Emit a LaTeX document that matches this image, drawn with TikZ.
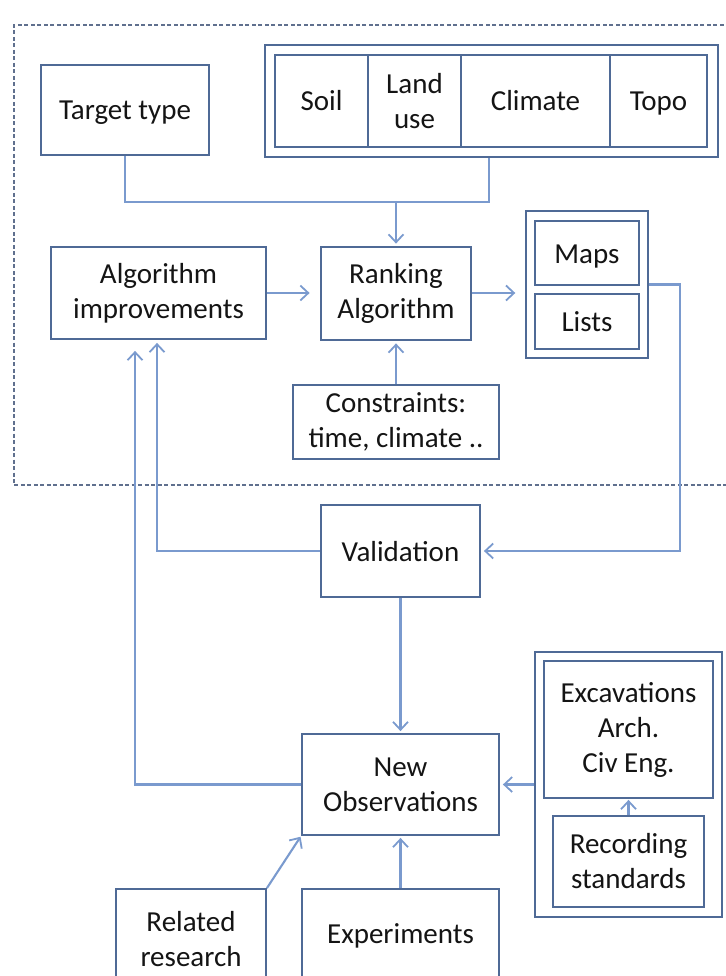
\documentclass[tikz,border=0pt]{standalone}
\usepackage{fontspec}
\setmainfont{Carlito}
\usetikzlibrary{arrows.meta}
\definecolor{boxc}{RGB}{79,106,150}
\definecolor{linkc}{RGB}{122,154,206}
\definecolor{dashc}{RGB}{96,112,142}
\definecolor{txtc}{RGB}{20,20,20}
\tikzset{
  box/.style={draw=boxc, line width=1.8pt, rectangle, inner sep=2pt, align=center,
    text=txtc, font=\fontsize{29}{35}\selectfont},
  oneline/.style={text height=23pt, text depth=3pt},
  link/.style={draw=linkc, line width=2.1pt},
  arr/.style={link, -{Straight Barb[length=8pt,width=15pt,line width=1.8pt]}},
}
\begin{document}
\begin{tikzpicture}[x=1pt,y=-1pt]
\useasboundingbox (0,0) rectangle (725,976);
% dashed frame around the ranking stage
\draw[dashc, line width=1.5pt, dash pattern=on 4pt off 2.5pt]
  (730,25) -- (14,25) -- (14,485) -- (730,485);

% inputs
\node[box, oneline, minimum width=168, minimum height=90] (target) at (125,110) {Target type};
\node[box, line width=1.4pt, minimum width=453, minimum height=112] (env) at (491.5,101) {};
\node[box, oneline, minimum width=93, minimum height=92] (soil) at (321.5,101) {Soil};
\node[box, minimum width=93, minimum height=92] (land) at (414.5,101) {Land\\use};
\node[box, oneline, minimum width=149, minimum height=92] (climate) at (535.5,101) {Climate};
\node[box, oneline, minimum width=97, minimum height=92] (topo) at (658.5,101) {Topo};

% algorithm row
\node[box, minimum width=215, minimum height=92] (algimp) at (158.5,293) {Algorithm\\improvements};
\node[box, line width=2.8pt, minimum width=150, minimum height=93] (ranking) at (396,293.5) {Ranking\\Algorithm};
\node[box, line width=1.4pt, minimum width=122, minimum height=147] (outputs) at (587,284.5) {};
\node[box, oneline, minimum width=104, minimum height=64] (maps) at (587,253) {Maps};
\node[box, oneline, minimum width=104, minimum height=55] (lists) at (587,321.5) {Lists};
\node[box, minimum width=206, minimum height=74] (constraints) at (396,422) {Constraints:\\time, climate ..};

% validation and observations
\node[box, oneline, minimum width=159, minimum height=92] (validation) at (400.5,551) {Validation};
\node[box, minimum width=197, minimum height=101] (newobs) at (400.5,784.5) {New\\Observations};
\node[box, line width=1.4pt, minimum width=187, minimum height=265] (obsenv) at (628.5,784.5) {};
\node[box, minimum width=169, minimum height=137] (excav) at (628.5,729.5) {Excavations\\Arch.\\Civ Eng.};
\node[box, minimum width=151, minimum height=91] (recording) at (628.5,861.5) {Recording\\standards};
\node[box, minimum width=150, minimum height=101] (related) at (191,939.5) {Related\\research};
\node[box, text height=20pt, text depth=13pt, minimum width=197, minimum height=101] (experiments) at (400.5,939.5) {Experiments};

% connectors
\coordinate (jn) at (396,201);
\draw[link] (target.south) -- ++(0,46) -| ([xshift=-2.5pt]env.south);
\draw[arr, shorten >=2pt] (jn) -- (ranking.north);
\draw[arr, shorten >=10pt] (algimp.east) -- (algimp.east -| ranking.west);
\draw[arr, shorten >=10pt] (algimp.east -| ranking.east) -- (algimp.east -| outputs.west);
\draw[arr, shorten >=2pt] (constraints.north) -- (ranking.south);
\draw[arr, shorten >=3pt] (outputs.east) -- ++(31,0) |- (validation.east);
\draw[arr, shorten >=3pt] (validation.west) -| ([xshift=-1.5pt]algimp.south);
\draw[arr, shorten >=11pt] (newobs.west) -| ([xshift=-23.5pt]algimp.south);
\draw[arr, shorten >=2pt] (validation.south) -- (newobs.north);
\draw[arr, shorten >=3pt] (obsenv.west) -- (newobs.east);
\draw[arr, shorten >=1pt] (recording.north) -- (excav.south);
\draw[arr, shorten >=1pt] (related.north east) -- (newobs.south west);
\draw[arr, shorten >=2pt] (experiments.north) -- (newobs.south);
\end{tikzpicture}
\end{document}
